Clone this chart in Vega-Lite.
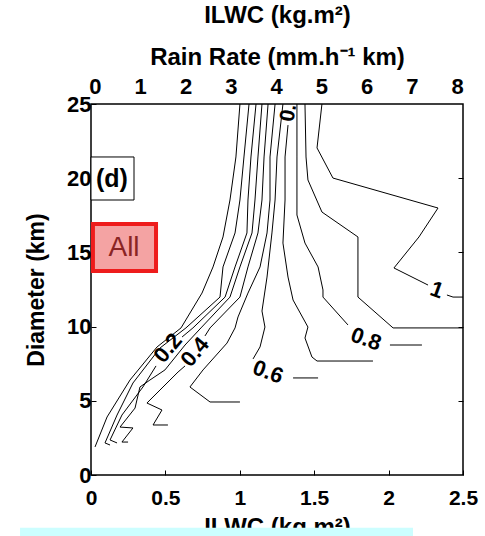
{
  "$schema": "https://vega.github.io/schema/vega-lite/v6.json",
  "width": 372,
  "height": 371,
  "autosize": {"type": "none"},
  "padding": {"left": 91, "top": 104, "right": 22, "bottom": 61},
  "background": "white",
  "config": {
    "view": {"stroke": "black", "strokeWidth": 1.5},
    "axis": {
      "labelFont": "Liberation Sans",
      "titleFont": "Liberation Sans",
      "labelFontWeight": "bold",
      "titleFontWeight": "bold",
      "labelColor": "black",
      "titleColor": "black",
      "tickColor": "black",
      "grid": false,
      "domain": false,
      "labelFlush": false,
      "labelOverlap": false
    }
  },
  "datasets": {
    "lines": [
      {"seg": "L0", "o": 1, "ilwc": 1.001, "diam": 25},
      {"seg": "L0", "o": 2, "ilwc": 0.974, "diam": 21.43},
      {"seg": "L0", "o": 3, "ilwc": 0.934, "diam": 18.53},
      {"seg": "L0", "o": 4, "ilwc": 0.887, "diam": 16.04},
      {"seg": "L0", "o": 5, "ilwc": 0.82, "diam": 14.02},
      {"seg": "L0", "o": 6, "ilwc": 0.746, "diam": 12.26},
      {"seg": "L0", "o": 7, "ilwc": 0.605, "diam": 9.91},
      {"seg": "L0", "o": 8, "ilwc": 0.444, "diam": 8.63},
      {"seg": "L0", "o": 9, "ilwc": 0.262, "diam": 6.4},
      {"seg": "L0", "o": 10, "ilwc": 0.108, "diam": 3.91},
      {"seg": "L0", "o": 11, "ilwc": 0.027, "diam": 1.89},

      {"seg": "L1", "o": 1, "ilwc": 1.062, "diam": 25},
      {"seg": "L1", "o": 2, "ilwc": 1.028, "diam": 21.43},
      {"seg": "L1", "o": 3, "ilwc": 1.001, "diam": 18.53},
      {"seg": "L1", "o": 4, "ilwc": 0.968, "diam": 16.31},
      {"seg": "L1", "o": 5, "ilwc": 0.887, "diam": 14.02},
      {"seg": "L1", "o": 6, "ilwc": 0.867, "diam": 11.99},
      {"seg": "L1", "o": 7, "ilwc": 0.638, "diam": 9.91},
      {"seg": "L1", "o": 8, "ilwc": 0.464, "diam": 8.56},
      {"seg": "L1", "o": 9, "ilwc": 0.282, "diam": 6.2},
      {"seg": "L1", "o": 10, "ilwc": 0.175, "diam": 4.04},
      {"seg": "L1", "o": 11, "ilwc": 0.094, "diam": 2.16},
      {"seg": "L1", "o": 12, "ilwc": 0.128, "diam": 2.02},

      {"seg": "L2a", "o": 1, "ilwc": 1.109, "diam": 25},
      {"seg": "L2a", "o": 2, "ilwc": 1.075, "diam": 21.43},
      {"seg": "L2a", "o": 3, "ilwc": 1.055, "diam": 18.53},
      {"seg": "L2a", "o": 4, "ilwc": 1.048, "diam": 16.31},
      {"seg": "L2a", "o": 5, "ilwc": 0.968, "diam": 14.02},
      {"seg": "L2a", "o": 6, "ilwc": 0.901, "diam": 11.99},
      {"seg": "L2a", "o": 7, "ilwc": 0.685, "diam": 9.91},
      {"seg": "L2a", "o": 8, "ilwc": 0.612, "diam": 9.3},
      {"seg": "L2b", "o": 1, "ilwc": 0.437, "diam": 7.35},
      {"seg": "L2b", "o": 2, "ilwc": 0.349, "diam": 5.93},
      {"seg": "L2b", "o": 3, "ilwc": 0.208, "diam": 4.04},
      {"seg": "L2b", "o": 4, "ilwc": 0.128, "diam": 2.36},
      {"seg": "L2b", "o": 5, "ilwc": 0.175, "diam": 2.16},

      {"seg": "L3", "o": 1, "ilwc": 1.149, "diam": 25},
      {"seg": "L3", "o": 2, "ilwc": 1.122, "diam": 21.43},
      {"seg": "L3", "o": 3, "ilwc": 1.102, "diam": 18.53},
      {"seg": "L3", "o": 4, "ilwc": 1.082, "diam": 16.31},
      {"seg": "L3", "o": 5, "ilwc": 1.001, "diam": 14.02},
      {"seg": "L3", "o": 6, "ilwc": 0.934, "diam": 11.99},
      {"seg": "L3", "o": 7, "ilwc": 0.739, "diam": 9.91},
      {"seg": "L3", "o": 8, "ilwc": 0.632, "diam": 8.76},
      {"seg": "L3", "o": 9, "ilwc": 0.497, "diam": 7.08},
      {"seg": "L3", "o": 10, "ilwc": 0.396, "diam": 6.4},
      {"seg": "L3", "o": 11, "ilwc": 0.329, "diam": 5.93},
      {"seg": "L3", "o": 12, "ilwc": 0.296, "diam": 4.51},
      {"seg": "L3", "o": 13, "ilwc": 0.195, "diam": 3.23},
      {"seg": "L3", "o": 14, "ilwc": 0.282, "diam": 3.17},
      {"seg": "L3", "o": 15, "ilwc": 0.208, "diam": 2.22},
      {"seg": "L3", "o": 16, "ilwc": 0.249, "diam": 2.22},

      {"seg": "L4a", "o": 1, "ilwc": 1.19, "diam": 25},
      {"seg": "L4a", "o": 2, "ilwc": 1.163, "diam": 21.43},
      {"seg": "L4a", "o": 3, "ilwc": 1.149, "diam": 18.53},
      {"seg": "L4a", "o": 4, "ilwc": 1.122, "diam": 16.31},
      {"seg": "L4a", "o": 5, "ilwc": 1.055, "diam": 14.02},
      {"seg": "L4a", "o": 6, "ilwc": 1.001, "diam": 11.99},
      {"seg": "L4a", "o": 7, "ilwc": 0.8, "diam": 9.91},
      {"seg": "L4a", "o": 8, "ilwc": 0.766, "diam": 9.37},
      {"seg": "L4b", "o": 1, "ilwc": 0.632, "diam": 7.35},
      {"seg": "L4b", "o": 2, "ilwc": 0.585, "diam": 6.94},
      {"seg": "L4b", "o": 3, "ilwc": 0.376, "diam": 4.85},
      {"seg": "L4b", "o": 4, "ilwc": 0.477, "diam": 4.38},
      {"seg": "L4b", "o": 5, "ilwc": 0.417, "diam": 3.37},
      {"seg": "L4b", "o": 6, "ilwc": 0.517, "diam": 3.37},

      {"seg": "L5", "o": 1, "ilwc": 1.237, "diam": 25},
      {"seg": "L5", "o": 2, "ilwc": 1.203, "diam": 21.43},
      {"seg": "L5", "o": 3, "ilwc": 1.203, "diam": 18.53},
      {"seg": "L5", "o": 4, "ilwc": 1.183, "diam": 16.31},
      {"seg": "L5", "o": 5, "ilwc": 1.136, "diam": 14.02},
      {"seg": "L5", "o": 6, "ilwc": 1.055, "diam": 12.26},
      {"seg": "L5", "o": 7, "ilwc": 0.988, "diam": 10.65},
      {"seg": "L5", "o": 8, "ilwc": 0.968, "diam": 9.91},
      {"seg": "L5", "o": 9, "ilwc": 0.914, "diam": 8.89},
      {"seg": "L5", "o": 10, "ilwc": 0.753, "diam": 7.08},
      {"seg": "L5", "o": 11, "ilwc": 0.665, "diam": 5.93},
      {"seg": "L5", "o": 12, "ilwc": 0.8, "diam": 4.92},
      {"seg": "L5", "o": 13, "ilwc": 1.001, "diam": 4.92},

      {"seg": "L6a", "o": 1, "ilwc": 1.29, "diam": 25},
      {"seg": "L6a", "o": 2, "ilwc": 1.25, "diam": 21.43},
      {"seg": "L6a", "o": 3, "ilwc": 1.237, "diam": 18.53},
      {"seg": "L6a", "o": 4, "ilwc": 1.216, "diam": 16.31},
      {"seg": "L6a", "o": 5, "ilwc": 1.183, "diam": 13.34},
      {"seg": "L6a", "o": 6, "ilwc": 1.149, "diam": 11.05},
      {"seg": "L6a", "o": 7, "ilwc": 1.169, "diam": 9.97},
      {"seg": "L6a", "o": 8, "ilwc": 1.136, "diam": 8.63},
      {"seg": "L6a", "o": 9, "ilwc": 1.089, "diam": 7.82},
      {"seg": "L6b", "o": 1, "ilwc": 1.358, "diam": 6.54},
      {"seg": "L6b", "o": 2, "ilwc": 1.526, "diam": 6.54},

      {"seg": "L7", "o": 1, "ilwc": 1.324, "diam": 23.58},
      {"seg": "L7", "o": 2, "ilwc": 1.304, "diam": 21.43},
      {"seg": "L7", "o": 3, "ilwc": 1.304, "diam": 18.53},
      {"seg": "L7", "o": 4, "ilwc": 1.29, "diam": 15.63},
      {"seg": "L7", "o": 5, "ilwc": 1.324, "diam": 13.34},
      {"seg": "L7", "o": 6, "ilwc": 1.358, "diam": 11.79},
      {"seg": "L7", "o": 7, "ilwc": 1.458, "diam": 9.97},
      {"seg": "L7", "o": 8, "ilwc": 1.438, "diam": 9.23},
      {"seg": "L7", "o": 9, "ilwc": 1.485, "diam": 7.95},
      {"seg": "L7", "o": 10, "ilwc": 1.519, "diam": 7.68},
      {"seg": "L7", "o": 11, "ilwc": 1.895, "diam": 7.68},

      {"seg": "L8a", "o": 1, "ilwc": 1.384, "diam": 25},
      {"seg": "L8a", "o": 2, "ilwc": 1.384, "diam": 21.43},
      {"seg": "L8a", "o": 3, "ilwc": 1.384, "diam": 17.52},
      {"seg": "L8a", "o": 4, "ilwc": 1.438, "diam": 15.63},
      {"seg": "L8a", "o": 5, "ilwc": 1.526, "diam": 14.02},
      {"seg": "L8a", "o": 6, "ilwc": 1.559, "diam": 12.47},
      {"seg": "L8a", "o": 7, "ilwc": 1.559, "diam": 11.99},
      {"seg": "L8a", "o": 8, "ilwc": 1.727, "diam": 10.11},
      {"seg": "L8b", "o": 1, "ilwc": 2.009, "diam": 8.76},
      {"seg": "L8b", "o": 2, "ilwc": 2.224, "diam": 8.76},

      {"seg": "L9", "o": 1, "ilwc": 1.438, "diam": 25},
      {"seg": "L9", "o": 2, "ilwc": 1.445, "diam": 21.43},
      {"seg": "L9", "o": 3, "ilwc": 1.458, "diam": 19.88},
      {"seg": "L9", "o": 4, "ilwc": 1.552, "diam": 17.72},
      {"seg": "L9", "o": 5, "ilwc": 1.794, "diam": 16.04},
      {"seg": "L9", "o": 6, "ilwc": 1.794, "diam": 11.99},
      {"seg": "L9", "o": 7, "ilwc": 2.03, "diam": 9.91},
      {"seg": "L9", "o": 8, "ilwc": 2.5, "diam": 9.91},

      {"seg": "L10a", "o": 1, "ilwc": 1.552, "diam": 25},
      {"seg": "L10a", "o": 2, "ilwc": 1.519, "diam": 22.04},
      {"seg": "L10a", "o": 3, "ilwc": 1.626, "diam": 20.01},
      {"seg": "L10a", "o": 4, "ilwc": 2.332, "diam": 17.99},
      {"seg": "L10a", "o": 5, "ilwc": 2.204, "diam": 16.04},
      {"seg": "L10a", "o": 6, "ilwc": 2.036, "diam": 13.95},
      {"seg": "L10a", "o": 7, "ilwc": 2.265, "diam": 12.8},
      {"seg": "L10b", "o": 1, "ilwc": 2.392, "diam": 12.13},
      {"seg": "L10b", "o": 2, "ilwc": 2.433, "diam": 11.99},
      {"seg": "L10b", "o": 3, "ilwc": 2.5, "diam": 11.99}
    ]
  },
  "layer": [
    {
      "layer": [
        {
          "data": {"name": "lines"},
          "mark": {"type": "line", "color": "black", "strokeWidth": 1, "clip": true},
          "encoding": {
            "x": {
              "field": "ilwc", "type": "quantitative",
              "scale": {"domain": [0, 2.5], "nice": false, "zero": false},
              "axis": {
                "title": "ILWC (kg.m²)", "values": [0, 0.5, 1, 1.5, 2, 2.5], "format": "~g",
                "labelFontSize": 21, "titleFontSize": 24, "tickSize": -5, "labelPadding": 17, "titlePadding": 7
              }
            },
            "y": {
              "field": "diam", "type": "quantitative",
              "scale": {"domain": [0, 25], "nice": false, "zero": false},
              "axis": {
                "title": "Diameter (km)", "values": [0, 5, 10, 15, 20, 25],
                "labelFontSize": 22, "titleFontSize": 23, "tickSize": -5, "labelPadding": 5, "titlePadding": 18
              }
            },
            "detail": {"field": "seg"},
            "order": {"field": "o", "type": "quantitative"}
          }
        },
        {
          "data": {"values": [{"lab": "0.2", "ilwc": 0.517, "diam": 8.56}, {"lab": "0.4", "ilwc": 0.699, "diam": 8.29}]},
          "mark": {"type": "text", "font": "Liberation Sans", "fontWeight": "bold", "fontSize": 22, "angle": -50, "align": "center", "baseline": "middle"},
          "encoding": {
            "x": {"field": "ilwc", "type": "quantitative"},
            "y": {"field": "diam", "type": "quantitative"},
            "text": {"field": "lab"}
          }
        },
        {
          "data": {"values": [{"lab": "0.6", "ilwc": 1.19, "diam": 6.94}, {"lab": "0.8", "ilwc": 1.848, "diam": 9.16}, {"lab": "1", "ilwc": 2.325, "diam": 12.47}]},
          "mark": {"type": "text", "font": "Liberation Sans", "fontWeight": "bold", "fontSize": 22, "angle": 20, "align": "center", "baseline": "middle"},
          "encoding": {
            "x": {"field": "ilwc", "type": "quantitative"},
            "y": {"field": "diam", "type": "quantitative"},
            "text": {"field": "lab"}
          }
        },
        {
          "data": {"values": [{"lab": "0.7", "ilwc": 1.337, "diam": 24.8}]},
          "mark": {"type": "text", "font": "Liberation Sans", "fontWeight": "bold", "fontSize": 21, "angle": -80, "align": "center", "baseline": "middle", "clip": true},
          "encoding": {
            "x": {"field": "ilwc", "type": "quantitative"},
            "y": {"field": "diam", "type": "quantitative"},
            "text": {"field": "lab"}
          }
        },
        {
          "data": {"values": [{"ilwc": 0, "ilwc2": 0.289, "diam": 18.53, "diam2": 21.43}]},
          "mark": {"type": "rect", "fill": "white", "stroke": "black", "strokeWidth": 1},
          "encoding": {
            "x": {"field": "ilwc", "type": "quantitative"},
            "x2": {"field": "ilwc2"},
            "y": {"field": "diam", "type": "quantitative"},
            "y2": {"field": "diam2"}
          }
        },
        {
          "data": {"values": [{"lab": "(d)", "ilwc": 0.141, "diam": 19.95}]},
          "mark": {"type": "text", "font": "Liberation Sans", "fontWeight": "bold", "fontSize": 25, "align": "center", "baseline": "middle", "color": "black"},
          "encoding": {
            "x": {"field": "ilwc", "type": "quantitative"},
            "y": {"field": "diam", "type": "quantitative"},
            "text": {"field": "lab"}
          }
        },
        {
          "data": {"values": [{"ilwc": 0.013, "ilwc2": 0.437, "diam": 13.75, "diam2": 16.91}]},
          "mark": {"type": "rect", "fill": "#f4a3a3", "stroke": "#ee1c1c", "strokeWidth": 4},
          "encoding": {
            "x": {"field": "ilwc", "type": "quantitative"},
            "x2": {"field": "ilwc2"},
            "y": {"field": "diam", "type": "quantitative"},
            "y2": {"field": "diam2"}
          }
        },
        {
          "data": {"values": [{"lab": "All", "ilwc": 0.222, "diam": 15.3}]},
          "mark": {"type": "text", "font": "Liberation Sans", "fontSize": 28, "align": "center", "baseline": "middle", "color": "#8a2424"},
          "encoding": {
            "x": {"field": "ilwc", "type": "quantitative"},
            "y": {"field": "diam", "type": "quantitative"},
            "text": {"field": "lab"}
          }
        },
        {
          "data": {"values": [{"ilwc": -0.477, "ilwc2": 2.164, "diam": -5, "diam2": -3.55}]},
          "mark": {"type": "rect", "fill": "#ccfeff", "clip": false},
          "encoding": {
            "x": {"field": "ilwc", "type": "quantitative"},
            "x2": {"field": "ilwc2"},
            "y": {"field": "diam", "type": "quantitative"},
            "y2": {"field": "diam2"}
          }
        }
      ]
    },
    {
      "data": {"values": [{"rr": 0, "diam": 0}]},
      "mark": {"type": "point", "opacity": 0},
      "encoding": {
        "x": {
          "field": "rr", "type": "quantitative",
          "scale": {"domain": [-0.088, 8.13], "nice": false, "zero": false},
          "axis": {
            "orient": "top", "values": [0, 1, 2, 3, 4, 5, 6, 7, 8],
            "title": ["ILWC (kg.m²)", "Rain Rate (mm.h⁻¹ km)"],
            "ticks": false, "labelFontSize": 22, "labelPadding": 6,
            "titleFontSize": 24, "titleLineHeight": 42, "titlePadding": 6
          }
        },
        "y": {
          "field": "diam", "type": "quantitative",
          "scale": {"domain": [0, 25], "nice": false, "zero": false},
          "axis": {"orient": "right", "values": [5, 10, 15, 20], "labels": false, "tickSize": -5, "title": null}
        }
      }
    }
  ],
  "resolve": {"scale": {"x": "independent", "y": "independent"}}
}
